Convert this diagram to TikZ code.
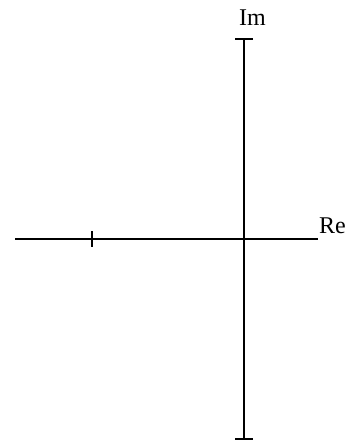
\documentclass[tikz,border=0pt]{standalone}
\usepackage{fontspec}
\setmainfont{Liberation Serif}
\usepackage{tikz}
\usetikzlibrary{positioning,calc}

\begin{document}
\begin{tikzpicture}[x=1pt, y=-1pt,
    every node/.style={font=\fontsize{24}{28}\selectfont, inner sep=0pt},
    axis/.style={line width=1.4pt},
    tick/.style={line width=1.4pt},
    lbl/.style={anchor=base west}]
  \useasboundingbox (0,0) rectangle (357,440);
  % axes
  \coordinate (reL) at (15,239);
  \coordinate (reR) at (318,239);
  \coordinate (imT) at (244,39);
  \coordinate (imB) at (244,439);
  \coordinate (pt)  at (92,239);
  \draw[axis] (reL) -- (reR);
  \draw[axis] (imT) -- (imB);
  % ticks
  \draw[tick] ($(imT)+(-9,0)$) -- ($(imT)+(9,0)$);
  \draw[tick] ($(imB)+(-9,0)$) -- ($(imB)+(9,0)$);
  \draw[tick] ($(pt)+(0,-8)$) -- ($(pt)+(0,8)$);
  % labels
  \node[lbl] (im) at (239,25) {Im};
  \node[lbl] (re) at (319,233) {Re};
\end{tikzpicture}
\end{document}
